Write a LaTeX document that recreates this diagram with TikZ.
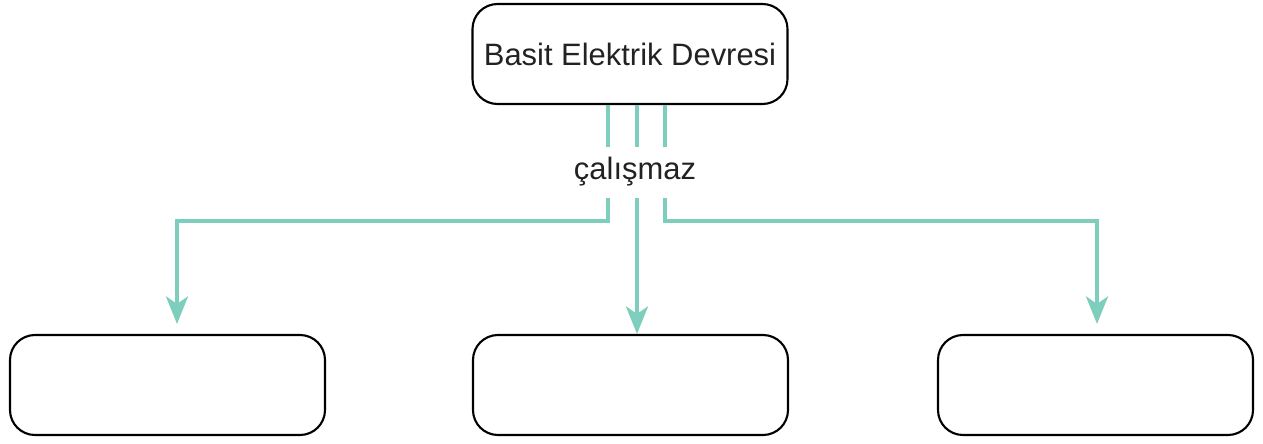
\documentclass[tikz,border=0pt]{standalone}
\usepackage{fontspec}
\setmainfont{Liberation Sans}
\definecolor{flowteal}{RGB}{126, 206, 189}
\definecolor{textgray}{RGB}{34, 34, 34}
\usetikzlibrary{arrows.meta, positioning}
\tikzset{
    topic/.style={rectangle, rounded corners=0.5cm, minimum width=6.3cm, minimum height=2cm, align=center, draw=black, line width=1.2pt, fill=white, text=textgray, font=\fontsize{17.6}{21}\selectfont},
    answer/.style={topic},
    flow/.style={line width=2.3pt, flowteal, -{Stealth[length=0.55cm, width=0.44cm, inset=0.15cm]}},
    flowlabel/.style={rectangle, fill=white, inner sep=0pt, minimum width=2.6cm, minimum height=1.02cm, text height=0.74em, text depth=0pt, text=textgray, font=\fontsize{17.6}{21}\selectfont}
}
\begin{document}
\begin{tikzpicture}
    \useasboundingbox (0,0) rectangle (25.26,-8.86);
    % Main concept
    \node[topic] (circuit) at (12.6,-1.08) {Basit Elektrik Devresi};

    % Empty answer boxes
    \node[answer] (answerA) at (3.35,-7.7) {};
    \node[answer] (answerB) at (12.61,-7.7) {};
    \node[answer] (answerC) at (21.91,-7.7) {};

    % Arrows
    \draw[flow, shorten >=0.2cm] ([xshift=-0.44cm]circuit.south) -- ++(0,-2.32) -| ([xshift=0.19cm]answerA.north);
    \draw[flow] ([xshift=0.14cm]circuit.south) -- ([xshift=0.14cm]circuit.south |- answerB.north);
    \draw[flow, shorten >=0.2cm] ([xshift=0.7cm]circuit.south) -- ++(0,-2.32) -| ([xshift=0.03cm]answerC.north);

    % Shared label
    \node[flowlabel] (works) at (12.7,-3.45) {çalışmaz};
\end{tikzpicture}
\end{document}
